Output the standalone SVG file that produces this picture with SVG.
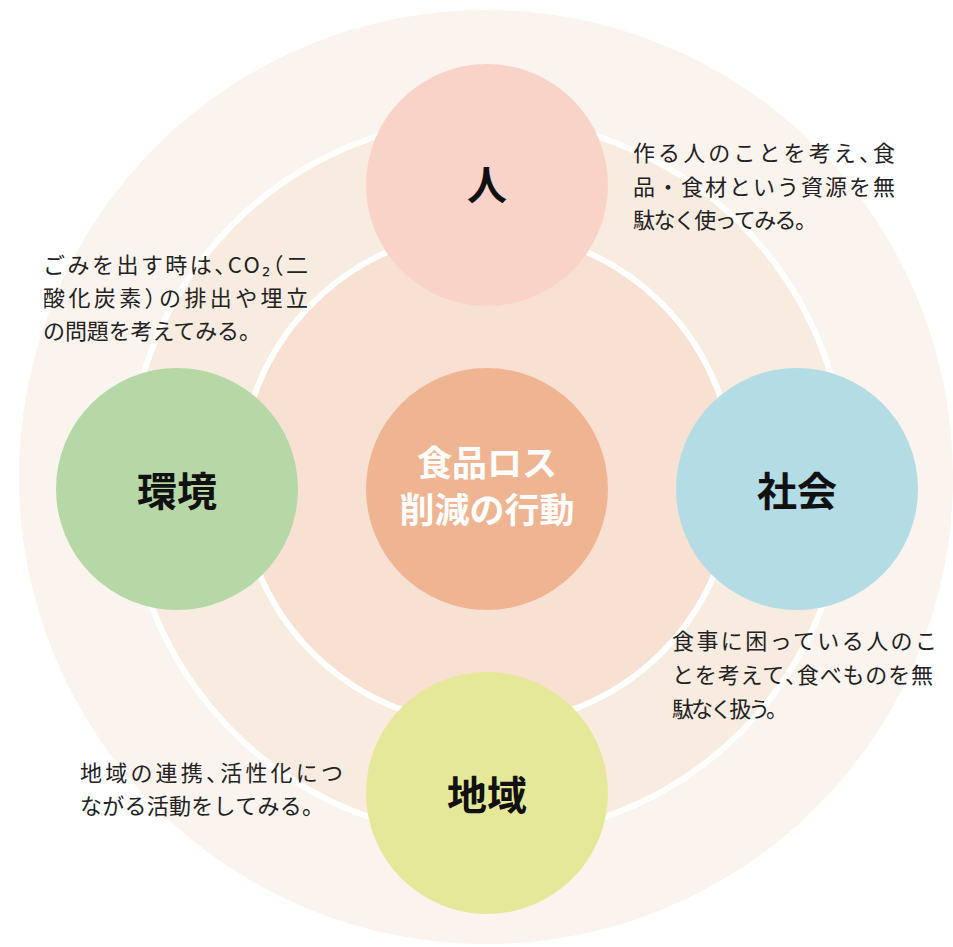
<svg xmlns="http://www.w3.org/2000/svg" width="953" height="947" viewBox="0 0 953 947">
<style>
.desc{font-family:"Noto Sans CJK JP","Noto Sans",sans-serif;font-size:22px;fill:#222;}
.p{font-feature-settings:"halt";}
.lbl{font-family:"Noto Sans CJK JP","Noto Sans",sans-serif;font-size:40px;font-weight:700;fill:#111;text-anchor:middle;}
.ctr{font-family:"Noto Sans CJK JP","Noto Sans",sans-serif;font-size:35px;font-weight:700;fill:#fff;text-anchor:middle;}
</style>
<rect width="953" height="947" fill="#fff"/>
<g id="background">
<circle cx="486" cy="477" r="467" fill="#FBF3EE"/>
<circle cx="487" cy="478" r="359" fill="#F8EBE0" stroke="#fff" stroke-width="6"/>
<circle cx="487" cy="478" r="247" fill="#F8E0D3" stroke="#fff" stroke-width="6"/>
</g>
<g id="connectors"></g>
<g id="node-hito">
<circle cx="487" cy="185" r="121" fill="#F9D3C8"/>
<text class="lbl" x="487" y="200">人</text>
</g>
<g id="node-kankyo">
<circle cx="177" cy="489" r="121" fill="#B5D8A6"/>
<text class="lbl" x="177" y="506">環境</text>
</g>
<g id="node-shakai">
<circle cx="797" cy="489" r="121" fill="#B3DCE5"/>
<text class="lbl" x="797" y="506">社会</text>
</g>
<g id="node-chiiki">
<circle cx="487" cy="793" r="121" fill="#E6E899"/>
<text class="lbl" x="487" y="810">地域</text>
</g>
<g id="node-center">
<circle cx="487" cy="489" r="121" fill="#EFB593"/>
<text class="ctr" x="487" y="476">食品ロス</text>
<text class="ctr" x="487" y="523">削減の行動</text>
</g>
<g id="text-hito">
<text class="desc" x="633" y="161" textLength="262" lengthAdjust="spacing">作る人のことを考え<tspan class="p">、</tspan>食</text>
<text class="desc" x="633" y="195" textLength="262" lengthAdjust="spacing">品・食材という資源を無</text>
<text class="desc" x="633" y="228" textLength="184" lengthAdjust="spacing">駄なく使ってみる。</text>
</g>
<g id="text-kankyo">
<text class="desc" x="43" y="273" textLength="265" lengthAdjust="spacing">ごみを出す時は<tspan class="p">、</tspan>CO₂<tspan class="p">（</tspan>二</text>
<text class="desc" x="43" y="306" textLength="265" lengthAdjust="spacing">酸化炭素<tspan class="p">）</tspan>の排出や埋立</text>
<text class="desc" x="43" y="339" textLength="218" lengthAdjust="spacing">の問題を考えてみる。</text>
</g>
<g id="text-shakai">
<text class="desc" x="672" y="649" textLength="265" lengthAdjust="spacing">食事に困っている人のこ</text>
<text class="desc" x="672" y="683" textLength="261" lengthAdjust="spacing">とを考えて<tspan class="p">、</tspan>食べものを無</text>
<text class="desc" x="672" y="717" textLength="116" lengthAdjust="spacing">駄なく扱う。</text>
</g>
<g id="text-chiiki">
<text class="desc" x="80" y="781" textLength="263" lengthAdjust="spacing">地域の連携<tspan class="p">、</tspan>活性化につ</text>
<text class="desc" x="80" y="814" textLength="244" lengthAdjust="spacing">ながる活動をしてみる。</text>
</g>
</svg>
